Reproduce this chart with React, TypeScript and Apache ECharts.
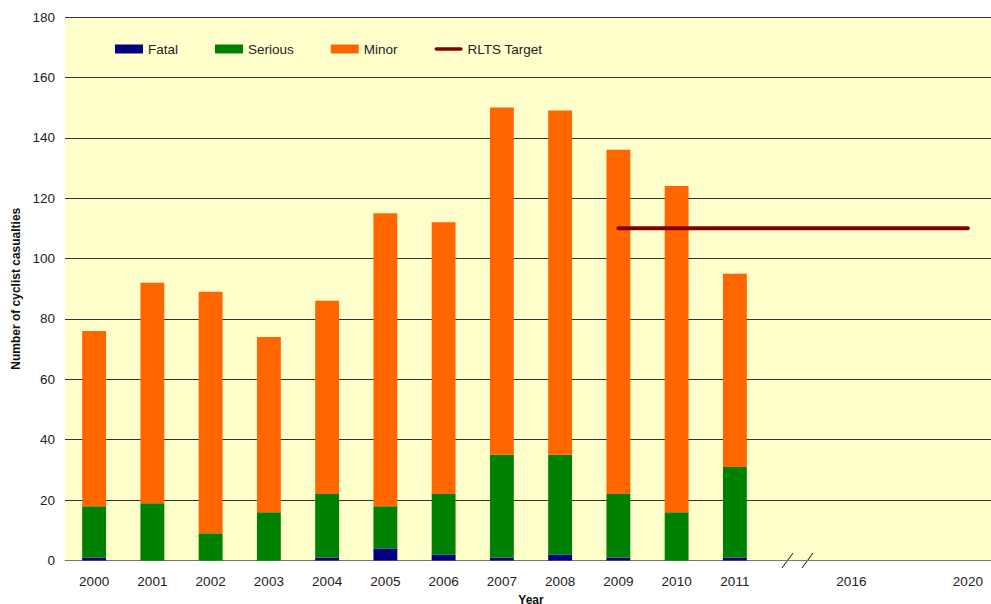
import React, { useEffect, useRef } from "react";
import * as echarts from "echarts";

const categories = ["2000", "2001", "2002", "2003", "2004", "2005", "2006", "2007", "2008", "2009", "2010", "2011", "", "2016", "", "2020"];
const fatal = [1, 0, 0, 0, 1, 4, 2, 1, 2, 1, 0, 1, null, null, null, null];
const serious = [17, 19, 9, 16, 21, 14, 20, 34, 33, 21, 16, 30, null, null, null, null];
const minor = [58, 73, 80, 58, 64, 97, 90, 115, 114, 114, 108, 64, null, null, null, null];
const target = [null, null, null, null, null, null, null, null, null, 110, 110, 110, 110, 110, 110, 110];
const yTicks = { min: 0, max: 180, interval: 20 };

const FONT = "Liberation Sans, Arial, sans-serif";

export default function App() {
  const ref = useRef<HTMLDivElement>(null);
  useEffect(() => {
    if (!ref.current) return;
    const chart = echarts.init(ref.current, undefined, { renderer: "svg" });
    const barW = "41%";
    chart.setOption({
      animation: false,
      textStyle: { fontFamily: FONT },
      grid: {
        left: 65,
        top: 17,
        width: 932,
        height: 543.5,
        backgroundColor: "#FFFFCC",
        show: true,
        borderWidth: 0,
        containLabel: false,
        outerBoundsMode: "none",
      },
      legend: {
        left: 110,
        top: 37,
        itemWidth: 28,
        itemHeight: 9,
        itemGap: 37,
        textStyle: { fontFamily: FONT, fontSize: 13.5, color: "#222" },
        data: [
          { name: "Fatal", icon: "rect" },
          { name: "Serious", icon: "rect" },
          { name: "Minor", icon: "rect" },
          { name: "RLTS Target", icon: "path://M2,0 L30,0 A2,2 0 0 1 30,4 L2,4 A2,2 0 0 1 2,0 Z" },
        ],
      },
      xAxis: {
        type: "category",
        data: categories,
        name: "Year",
        nameLocation: "middle",
        nameGap: 33,
        nameTextStyle: { fontFamily: FONT, fontWeight: "bold", fontSize: 12, color: "#111" },
        axisLine: { show: true, lineStyle: { color: "#777", width: 1 } },
        axisTick: { show: false },
        axisLabel: { interval: 0, fontFamily: FONT, fontSize: 13.5, color: "#222", margin: 14 },
        splitLine: { show: false },
      },
      yAxis: {
        type: "value",
        min: yTicks.min,
        max: yTicks.max,
        interval: yTicks.interval,
        name: "Number of cyclist casualties",
        nameLocation: "middle",
        nameGap: 42,
        nameTextStyle: { fontFamily: FONT, fontWeight: "bold", fontSize: 12, color: "#111" },
        axisLine: { show: false },
        axisTick: { show: false },
        axisLabel: { fontFamily: FONT, fontSize: 13.5, color: "#222", margin: 10 },
        splitLine: { show: true, lineStyle: { color: "#333", width: 1 } },
      },
      series: [
        { name: "Fatal", type: "bar", stack: "a", barWidth: barW, data: fatal, itemStyle: { color: "#000080" } },
        { name: "Serious", type: "bar", stack: "a", barWidth: barW, data: serious, itemStyle: { color: "#008000" } },
        { name: "Minor", type: "bar", stack: "a", barWidth: barW, data: minor, itemStyle: { color: "#FF6600" } },
        {
          name: "RLTS Target",
          type: "line",
          data: target,
          symbol: "none",
          lineStyle: { color: "#800000", width: 4, cap: "round" },
          itemStyle: { color: "#800000" },
        },
      ],
      graphic: [
        { type: "line", shape: { x1: 782, y1: 568, x2: 793, y2: 553 }, style: { stroke: "#111", lineWidth: 1 } },
        { type: "line", shape: { x1: 802, y1: 568, x2: 813, y2: 553 }, style: { stroke: "#111", lineWidth: 1 } },
      ],
    });
    return () => chart.dispose();
  }, []);
  return <div ref={ref} style={{ width: 991, height: 604, position: "absolute", left: 0, top: 0 }} />;
}
